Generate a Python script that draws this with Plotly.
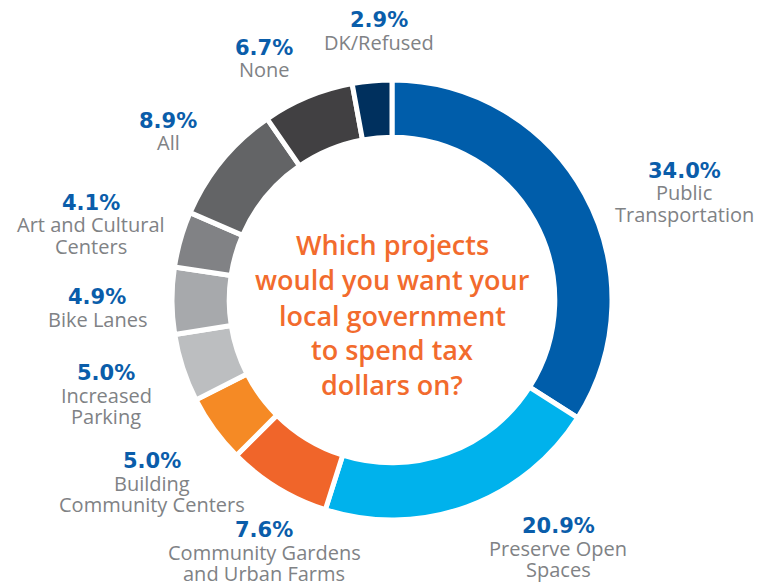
import plotly.graph_objects as go

categories = ["Public Transportation", "Preserve Open Spaces", "Community Gardens and Urban Farms",
              "Building Community Centers", "Increased Parking", "Bike Lanes",
              "Art and Cultural Centers", "All", "None", "DK/Refused"]
label_lines = [["Public", "Transportation"], ["Preserve Open", "Spaces"],
               ["Community Gardens", "and Urban Farms"], ["Building", "Community Centers"],
               ["Increased", "Parking"], ["Bike Lanes"], ["Art and Cultural", "Centers"],
               ["All"], ["None"], ["DK/Refused"]]
values = [34.0, 20.9, 7.6, 5.0, 5.0, 4.9, 4.1, 8.9, 6.7, 2.9]
colors = ["#005DAA", "#00B2EC", "#F0652A", "#F58A25", "#BCBEC0", "#A7A9AC",
          "#818285", "#636466", "#414042", "#00305E"]
center_question = ["Which projects", "would you want your", "local government", "to spend tax", "dollars on?"]

# label anchor positions in pixels (x center, y center of the percent line)
pct_pos = [(684, 171), (558, 526), (264, 530), (152, 461), (106, 373), (97, 297),
           (91, 203), (168, 121), (264, 48), (379, 20)]

W, H = 773, 587
cx, cy, R = 392, 300, 220
LINE = 21.5

fig = go.Figure(go.Pie(
    labels=categories, values=values, sort=False, direction="clockwise", rotation=0,
    hole=0.74, marker=dict(colors=colors, line=dict(color="white", width=5)),
    textinfo="none", hoverinfo="skip", showlegend=False,
    domain=dict(x=[(cx - R) / W, (cx + R) / W], y=[1 - (cy + R) / H, 1 - (cy - R) / H]),
))

ann = []
for v, lines, (px, py) in zip(values, label_lines, pct_pos):
    ann.append(dict(x=px / W, y=1 - py / H, xref="paper", yref="paper", text=f"<b>{v:.1f}%</b>",
                    showarrow=False, xanchor="center", yanchor="middle", borderpad=0,
                    font=dict(family="DejaVu Sans", size=21, color="#0A5DAA")))
    for i, ln in enumerate(lines):
        ann.append(dict(x=px / W, y=1 - (py + 22 + i * LINE) / H, xref="paper", yref="paper",
                        text=ln, showarrow=False, xanchor="center", yanchor="middle", borderpad=0,
                        font=dict(family="Open Sans", size=20, color="#808285")))

qy = [244, 280, 315, 349, 384]
for ln, y in zip(center_question, qy):
    ann.append(dict(x=cx / W, y=1 - y / H, xref="paper", yref="paper", text=ln,
                    showarrow=False, xanchor="center", yanchor="middle", borderpad=0,
                    font=dict(family="Open Sans", size=27, color="#F26B2D", weight=600)))

fig.update_layout(width=W, height=H, margin=dict(l=0, r=0, t=0, b=0),
                  paper_bgcolor="white", plot_bgcolor="white", annotations=ann)
fig.write_html("out.html", config={"displayModeBar": False},
               post_script="document.body.style.margin='0';")
